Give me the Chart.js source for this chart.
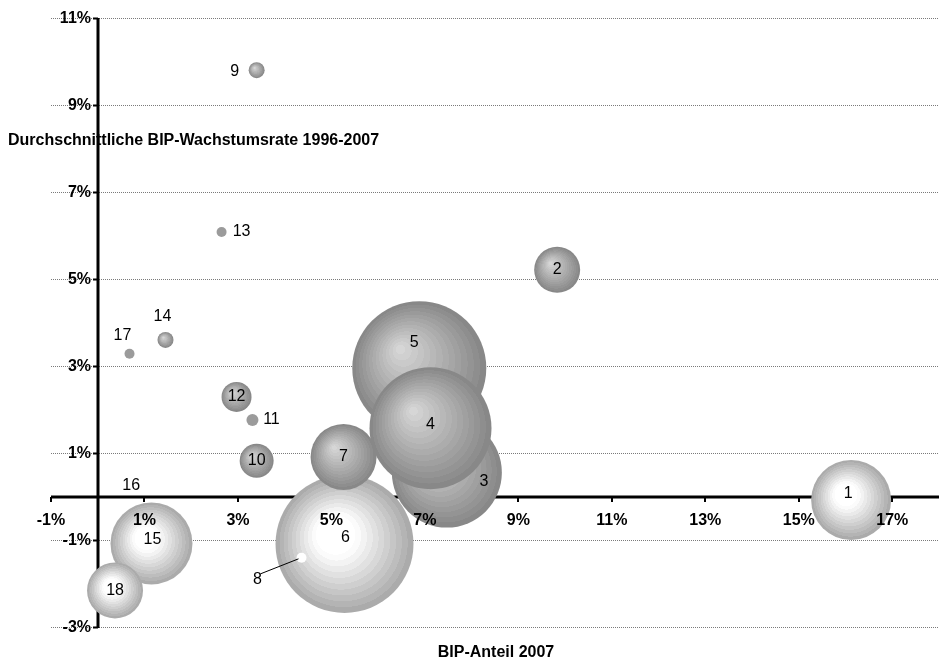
<!DOCTYPE html>
<html lang="de">
<head>
<meta charset="utf-8">
<title>BIP-Anteil und Wachstum</title>
<script src="https://cdn.jsdelivr.net/npm/chart.js@4.4.1/dist/chart.umd.min.js"></script>
<style>
    html, body { margin: 0; padding: 0; background: #fff; }
    .chart-box { position: relative; width: 943px; height: 662px; }
</style>
</head>
<body>
<div class="chart-box"><canvas id="chart"></canvas></div>
<script>
// Country numbers shown on the bubbles
const categories = ['1', '2', '3', '4', '5', '6', '7', '8', '9', '10', '11', '12', '13', '14', '15', '16', '17', '18'];
// BIP-Anteil 2007 (x, in %)
const gdpShare = [16.12, 9.83, 7.47, 7.12, 6.88, 5.28, 5.26, 4.36, 3.40, 3.40, 3.31, 2.97, 2.65, 1.45, 1.15, 0.80, 0.68, 0.37];
// Durchschnittliche BIP-Wachstumsrate 1996-2007 (y, in %)
const gdpGrowth = [-0.08, 5.21, 0.55, 1.57, 2.95, -1.09, 0.91, -1.41, 9.80, 0.82, 1.76, 2.29, 6.08, 3.60, -1.08, -0.17, 3.28, -2.16];
// Bubble radius
const bubbleSize = [40, 23, 55, 61, 67, 69, 33, 5, 8, 17, 6, 15, 5, 8, 41, 0, 5, 28];

const xTickValues = [-1, 1, 3, 5, 7, 9, 11, 13, 15, 17];
const yTickValues = [-3, -1, 1, 3, 5, 7, 9, 11];

// Painting order (later ones sit on top)
const drawOrder = ['6', '3', '5', '4', '7', '8', '15', '18', '1', '2', '9', '10', '12', '11', '13', '14', '16', '17'];

// Styling
const lightBubbles = ['1', '6', '15', '18'];
const flatBubbles = { '8': '#ffffff', '11': '#9b9b9b', '13': '#9b9b9b', '17': '#9b9b9b' };
const lightRamp = ['#ffffff', '#ffffff', '#ffffff', '#ffffff', '#fbfbfb', '#f3f3f3', '#eaeaea', '#e1e1e1', '#d8d8d8', '#cfcfcf', '#c6c6c6', '#bdbdbd', '#b4b4b4', '#ababab'];
const darkRamp = ['#d6d6d6', '#d0d0d0', '#cacaca', '#c4c4c4', '#bebebe', '#b8b8b8', '#b2b2b2', '#acacac', '#a6a6a6', '#a0a0a0', '#9a9a9a', '#949494', '#8e8e8e', '#888888'];
const labelOffsets = {
    '1': [-3, -6], '3': [37, 9], '4': [0, -4], '5': [-5, -26], '6': [1, -6],
    '8': [-44, 22], '9': [-22, 1], '11': [19, 0], '13': [20, 0], '14': [-3, -23],
    '15': [1, -4], '16': [-4, -18], '17': [-7, -18]
};
const FONT = '"Liberation Sans", Arial, sans-serif';

function bubbleFill(context) {
    if (context.type !== 'data') return '#999';
    const chart = context.chart;
    const p = context.raw;
    if (!chart.chartArea || !p.r) return 'rgba(0,0,0,0)';
    const name = categories[p.i];
    if (flatBubbles[name]) return flatBubbles[name];
    const cx = chart.scales.x.getPixelForValue(p.x);
    const cy = chart.scales.y.getPixelForValue(p.y);
    const light = lightBubbles.includes(name);
    const ramp = light ? lightRamp : darkRamp;
    const shift = light ? 0.18 : 0.3;
    const g = chart.ctx.createRadialGradient(cx - shift * p.r, cy - shift * p.r, 0, cx, cy, p.r);
    const n = ramp.length;
    ramp.forEach((c, k) => {
        g.addColorStop(k / n, c);
        g.addColorStop(Math.min(1, (k + 1) / n - 0.001), c);
    });
    return g;
}

// Grid and crossing axes under the bubbles, tick labels above them
const axesPlugin = {
    id: 'crossAxes',
    beforeDatasetsDraw(chart) {
        const ctx = chart.ctx;
        const area = chart.chartArea;
        const xs = chart.scales.x;
        const ys = chart.scales.y;
        const x0 = Math.round(xs.getPixelForValue(0));
        const y0 = Math.round(ys.getPixelForValue(0));
        ctx.save();

        // dotted horizontal gridlines
        ctx.strokeStyle = '#7a7a7a';
        ctx.lineWidth = 1;
        ctx.setLineDash([1, 1]);
        yTickValues.forEach(v => {
            const py = Math.round(ys.getPixelForValue(v)) + 0.5;
            ctx.beginPath();
            ctx.moveTo(area.left, py);
            ctx.lineTo(area.right, py);
            ctx.stroke();
        });
        ctx.setLineDash([]);

        // axis lines
        ctx.strokeStyle = '#000';
        ctx.lineWidth = 3;
        ctx.beginPath();
        ctx.moveTo(x0, area.top);
        ctx.lineTo(x0, area.bottom + 1);
        ctx.moveTo(area.left, y0);
        ctx.lineTo(area.right, y0);
        ctx.stroke();

        // tick marks
        ctx.lineWidth = 2;
        ctx.beginPath();
        yTickValues.forEach(v => {
            const py = Math.round(ys.getPixelForValue(v)) + 0.5;
            ctx.moveTo(x0 - 5, py);
            ctx.lineTo(x0, py);
        });
        xTickValues.forEach(v => {
            const px = Math.round(xs.getPixelForValue(v));
            ctx.moveTo(px, y0);
            ctx.lineTo(px, y0 + 5);
        });
        ctx.stroke();
        ctx.restore();
    },
    afterDatasetsDraw(chart) {
        const ctx = chart.ctx;
        const xs = chart.scales.x;
        const ys = chart.scales.y;
        const x0 = Math.round(xs.getPixelForValue(0));
        const y0 = Math.round(ys.getPixelForValue(0));
        ctx.save();
        ctx.fillStyle = '#000';
        ctx.font = 'bold 16px ' + FONT;
        ctx.textAlign = 'right';
        ctx.textBaseline = 'middle';
        yTickValues.forEach(v => {
            ctx.fillText(v + '%', x0 - 7, ys.getPixelForValue(v) + 1);
        });
        ctx.textAlign = 'center';
        xTickValues.forEach(v => {
            ctx.fillText(v + '%', xs.getPixelForValue(v), y0 + 24);
        });
        ctx.restore();
    }
};

// Numbers on the bubbles and the two axis titles
const labelPlugin = {
    id: 'bubbleLabels',
    afterDatasetsDraw(chart) {
        const ctx = chart.ctx;
        const meta = chart.getDatasetMeta(0);
        const points = chart.data.datasets[0].data;
        ctx.save();
        ctx.font = '16px ' + FONT;
        ctx.fillStyle = '#000';
        ctx.textAlign = 'center';
        ctx.textBaseline = 'middle';
        meta.data.forEach((el, k) => {
            const name = categories[points[k].i];
            const off = labelOffsets[name] || [0, 0];
            const lx = el.x + off[0];
            const ly = el.y + off[1];
            if (name === '8') {
                // leader line from label to bubble
                ctx.strokeStyle = '#000';
                ctx.lineWidth = 1;
                ctx.beginPath();
                ctx.moveTo(lx + 3, ly - 6);
                ctx.lineTo(el.x - 3, el.y + 1);
                ctx.stroke();
            }
            ctx.fillText(name, lx, ly);
        });
        ctx.restore();
    },
    afterDraw(chart) {
        const ctx = chart.ctx;
        const area = chart.chartArea;
        ctx.save();
        ctx.font = 'bold 16px ' + FONT;
        ctx.fillStyle = '#000';
        ctx.textBaseline = 'middle';
        ctx.textAlign = 'left';
        ctx.fillText('Durchschnittliche BIP-Wachstumsrate 1996-2007', 8, chart.scales.y.getPixelForValue(8.18));
        ctx.textAlign = 'center';
        ctx.fillText('BIP-Anteil 2007', (area.left + area.right) / 2 + 1, area.bottom + 26);
        ctx.restore();
    }
};

Chart.defaults.font.family = FONT;
Chart.defaults.font.size = 16;
Chart.defaults.color = '#000';

new Chart(document.getElementById('chart'), {
    type: 'bubble',
    data: {
        datasets: [{
            label: 'Länder',
            data: drawOrder.map(name => {
                const i = categories.indexOf(name);
                return { x: gdpShare[i], y: gdpGrowth[i], r: bubbleSize[i], i: i };
            }),
            backgroundColor: bubbleFill,
            borderWidth: 0,
            hoverRadius: 0
        }]
    },
    options: {
        responsive: true,
        maintainAspectRatio: false,
        animation: false,
        events: [],
        layout: { autoPadding: false, padding: { left: 51, right: 4, top: 18, bottom: 35 } },
        plugins: {
            legend: { display: false },
            tooltip: { enabled: false }
        },
        scales: {
            x: { type: 'linear', min: -1, max: 18, display: false },
            y: { type: 'linear', min: -3, max: 11, display: false }
        }
    },
    plugins: [axesPlugin, labelPlugin]
});
</script>
</body>
</html>
